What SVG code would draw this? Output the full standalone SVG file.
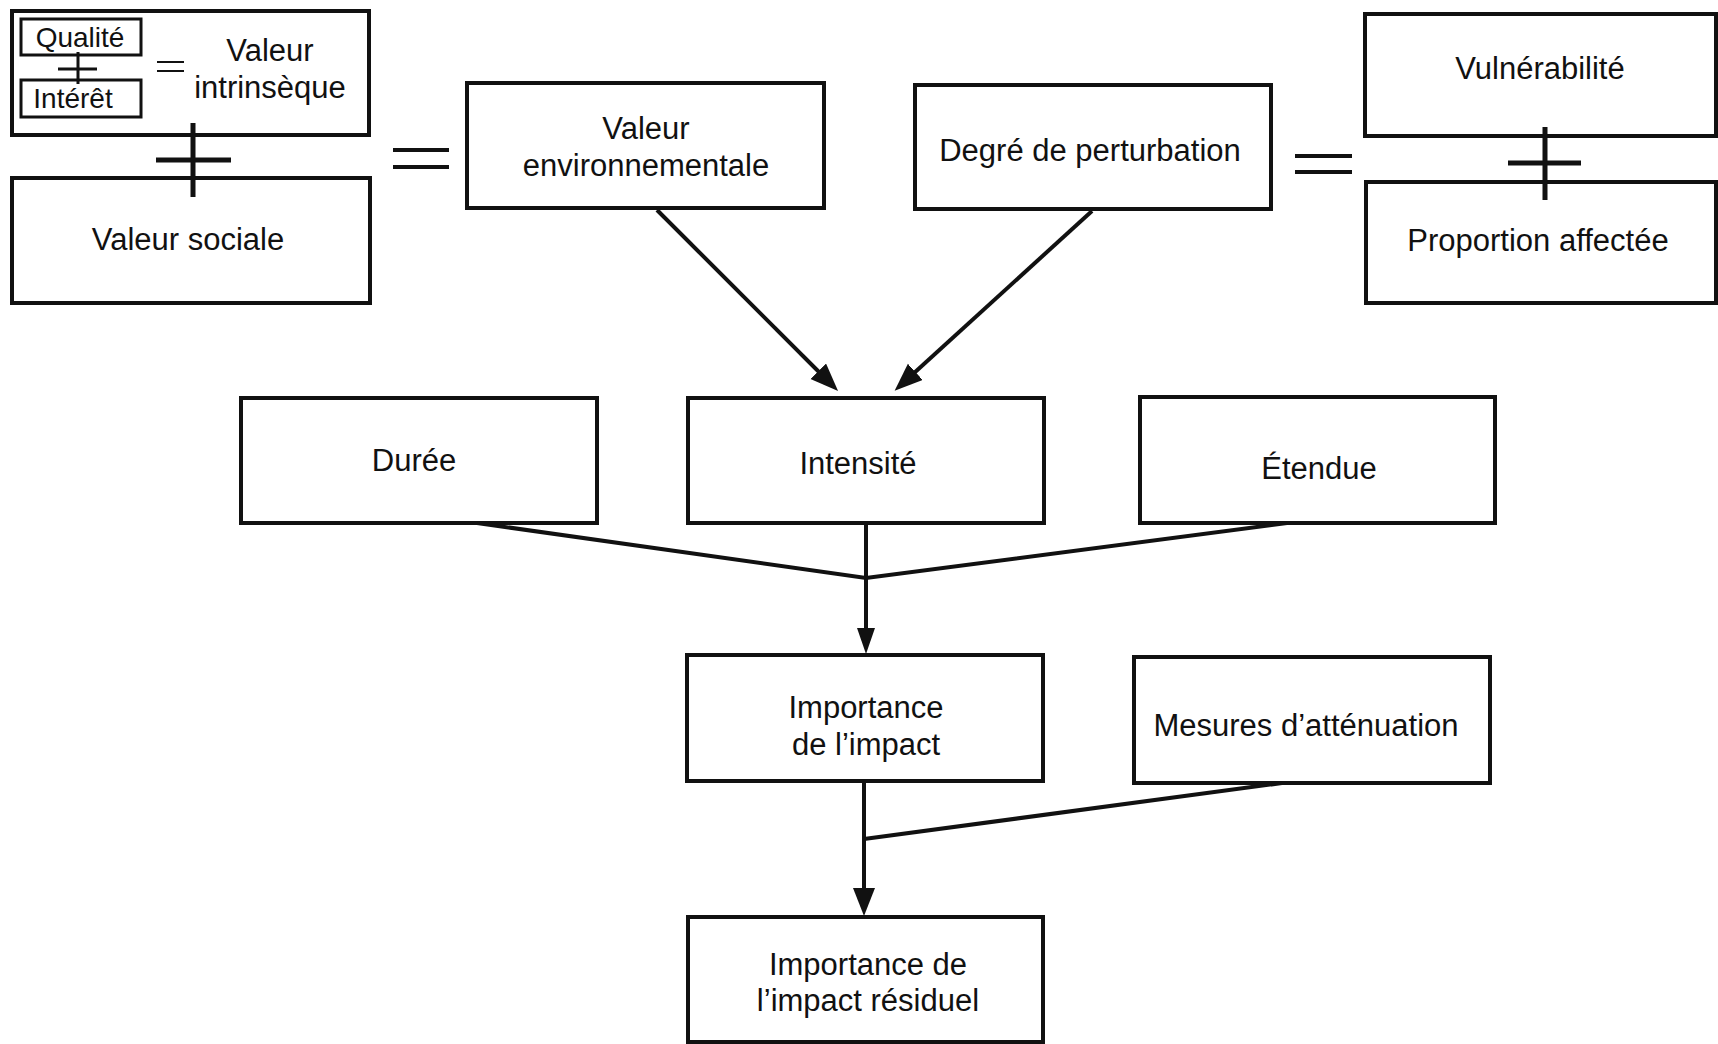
<svg xmlns="http://www.w3.org/2000/svg" width="1718" height="1044" viewBox="0 0 1718 1044">
<style>
.box{fill:#fff;stroke:#111;stroke-width:4}
.sbox{fill:#fff;stroke:#111;stroke-width:3}
.t{font-family:"Liberation Sans",Arial,sans-serif;font-size:31px;fill:#111;text-anchor:middle}
.ts{font-family:"Liberation Sans",Arial,sans-serif;font-size:28px;fill:#111;text-anchor:middle}
.op{stroke:#111;fill:none}
.c{stroke:#111;fill:none;stroke-width:4}
</style>
<defs>
<marker id="ah" markerUnits="userSpaceOnUse" markerWidth="30" markerHeight="24" refX="18" refY="11" orient="auto">
<path d="M0,0 L28,11 L0,22 z" fill="#111"/>
</marker>
<marker id="ahs" markerUnits="userSpaceOnUse" markerWidth="30" markerHeight="20" refX="16" refY="9" orient="auto">
<path d="M0,0 L26,9 L0,18 z" fill="#111"/>
</marker>
</defs>
<rect width="1718" height="1044" fill="#fff"/>

<g id="valeur-intrinseque">
<rect class="box" x="12" y="11" width="357" height="124"/>
<g id="qualite">
<rect class="sbox" x="21" y="19" width="120" height="36"/>
<text class="ts" x="80" y="47">Qualité</text>
</g>
<g id="interet">
<rect class="sbox" x="21" y="80" width="120" height="37"/>
<text class="ts" x="73" y="108">Intérêt</text>
</g>
<path class="op" stroke-width="3" d="M78,52 V84 M58,69 H97"/>
<path class="op" stroke-width="2" d="M157,62 H184 M157,71 H184"/>
<text class="t" x="270" y="61">Valeur</text>
<text class="t" x="270" y="98">intrinsèque</text>
</g>

<g id="valeur-sociale">
<rect class="box" x="12" y="178" width="358" height="125"/>
<text class="t" x="188" y="250">Valeur sociale</text>
</g>

<g id="plus-left">
<path class="op" stroke-width="5" d="M193,123 V197 M156,160 H231"/>
</g>
<g id="equal-left">
<path class="op" stroke-width="4" d="M393,150 H449 M393,167 H449"/>
</g>

<g id="valeur-environnementale">
<rect class="box" x="467" y="83" width="357" height="125"/>
<text class="t" x="646" y="139">Valeur</text>
<text class="t" x="646" y="176">environnementale</text>
</g>

<g id="degre-perturbation">
<rect class="box" x="915" y="85" width="356" height="124"/>
<text class="t" x="1090" y="161">Degré de perturbation</text>
</g>

<g id="equal-right">
<path class="op" stroke-width="4" d="M1295,156 H1352 M1295,172 H1352"/>
</g>

<g id="vulnerabilite">
<rect class="box" x="1365" y="14" width="351" height="122"/>
<text class="t" x="1540" y="79">Vulnérabilité</text>
</g>

<g id="proportion-affectee">
<rect class="box" x="1366" y="182" width="350" height="121"/>
<text class="t" x="1538" y="251">Proportion affectée</text>
</g>

<g id="plus-right">
<path class="op" stroke-width="5" d="M1545,127 V200 M1508,163 H1581"/>
</g>

<g id="duree">
<rect class="box" x="241" y="398" width="356" height="125"/>
<text class="t" x="414" y="471">Durée</text>
</g>

<g id="intensite">
<rect class="box" x="688" y="398" width="356" height="125"/>
<text class="t" x="858" y="474">Intensité</text>
</g>

<g id="etendue">
<rect class="box" x="1140" y="397" width="355" height="126"/>
<text class="t" x="1319" y="479">Étendue</text>
</g>

<g id="importance-impact">
<rect class="box" x="687" y="655" width="356" height="126"/>
<text class="t" x="866" y="718">Importance</text>
<text class="t" x="866" y="755">de l’impact</text>
</g>

<g id="mesures-attenuation">
<rect class="box" x="1134" y="657" width="356" height="126"/>
<text class="t" x="1306" y="736">Mesures d’atténuation</text>
</g>

<g id="importance-impact-residuel">
<rect class="box" x="688" y="917" width="355" height="125"/>
<text class="t" x="868" y="975">Importance de</text>
<text class="t" x="868" y="1011">l’impact résiduel</text>
</g>

<g id="connectors">
<path class="c" d="M657,210 L831,384" marker-end="url(#ah)"/>
<path class="c" d="M1092,211 L902,384" marker-end="url(#ah)"/>
<path class="c" stroke-width="5" d="M477,523 L866,578 L1287,523"/>
<path class="c" stroke-width="3" d="M866,523 L866,644" marker-end="url(#ahs)"/>
<path class="c" stroke-width="5" d="M1282,783 L864,839"/>
<path class="c" stroke-width="5" d="M864,781 L864,906" marker-end="url(#ah)"/>
</g>
</svg>
